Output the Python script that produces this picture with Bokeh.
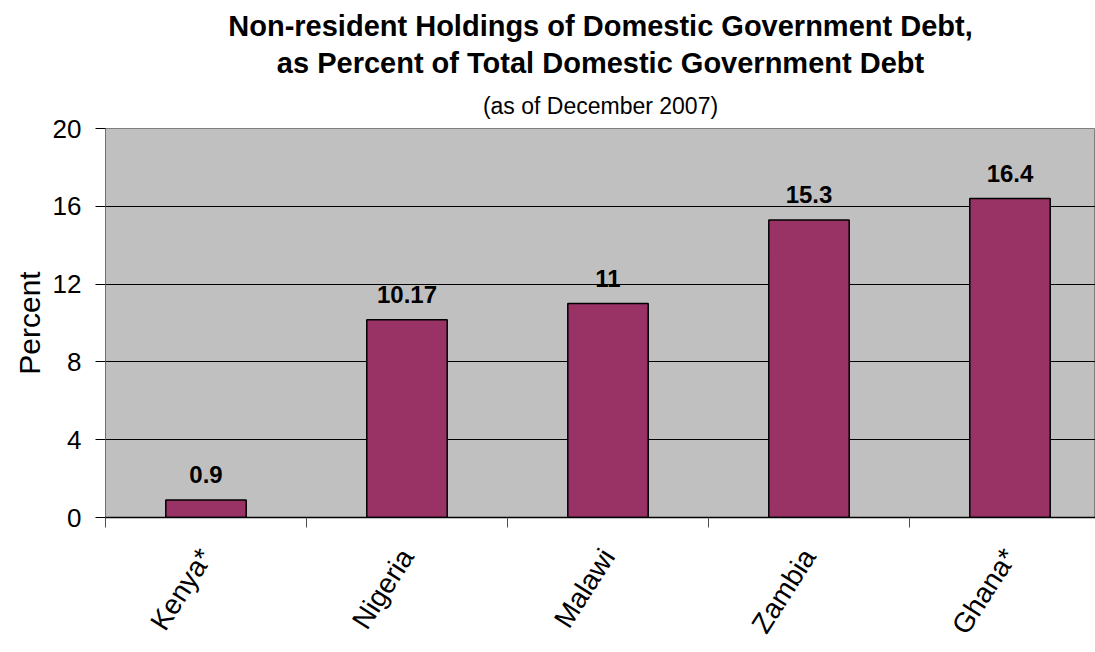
from bokeh.plotting import figure
from bokeh.models import Title, FixedTicker, ColumnDataSource, Range1d
from bokeh.embed import file_html
from bokeh.resources import INLINE
from bokeh.core.properties import value

countries = ["Kenya*", "Nigeria", "Malawi", "Zambia", "Ghana*"]
values = [0.9, 10.17, 11, 15.3, 16.4]
value_labels = ["0.9", "10.17", "11", "15.3", "16.4"]
y_ticks = [0, 4, 8, 12, 16, 20]

FONT = "Liberation Sans"

positions = list(range(1, len(countries) + 1))
src = ColumnDataSource(dict(x=positions, top=values, lab=value_labels))

W, H = 1095, 652
p = figure(width=W, height=H, output_backend="svg", toolbar_location=None,
           x_range=Range1d(0.5, 0.5 + 990 / 201.0), y_range=Range1d(0, 20),
           min_border_left=105, min_border_right=0, min_border_top=128,
           min_border_bottom=135)
p.background_fill_color = "#C0C0C0"
p.border_fill_color = "white"
p.outline_line_color = "#808080"
p.outline_line_width = 1

p.vbar(x="x", top="top", width=0.4, source=src, fill_color="#993366",
       line_color="black", line_width=1.5)
p.text(x="x", y="top", text="lab", source=src, text_align="center",
       text_baseline="bottom", y_offset=-17, text_font=value(FONT),
       text_font_size="24px", text_font_style="bold", text_color="black")

# grid
p.xgrid.visible = False
p.ygrid.ticker = FixedTicker(ticks=y_ticks)
p.ygrid.grid_line_color = "black"
p.ygrid.grid_line_width = 1

# y axis
p.yaxis.ticker = FixedTicker(ticks=y_ticks)
p.yaxis.axis_label = "Percent"
p.yaxis.axis_label_text_font = FONT
p.yaxis.axis_label_text_font_size = "30px"
p.yaxis.axis_label_text_font_style = "normal"
p.yaxis.axis_label_text_color = "black"
p.yaxis.axis_label_standoff = 4
p.yaxis.major_label_text_font = FONT
p.yaxis.major_label_text_font_size = "26px"
p.yaxis.major_label_text_color = "black"
p.yaxis.major_label_standoff = 14
p.yaxis.axis_line_color = "#707070"
p.yaxis.major_tick_line_color = "black"
p.yaxis.major_tick_out = 10
p.yaxis.major_tick_in = 0
p.yaxis.minor_tick_line_color = None

# x axis
p.xaxis.ticker = FixedTicker(ticks=positions,
                             minor_ticks=[i + 0.5 for i in range(0, len(countries) + 1)])
p.xaxis.major_label_overrides = {pos: c for pos, c in zip(positions, countries)}
p.xaxis.major_label_orientation = 1.0
p.xaxis.major_label_text_font = FONT
p.xaxis.major_label_text_font_size = "28px"
p.xaxis.major_label_text_color = "black"
p.xaxis.major_label_standoff = 24
p.xaxis.major_tick_out = 0
p.xaxis.major_tick_in = 0
p.xaxis.major_tick_line_color = None
p.xaxis.minor_tick_out = 10
p.xaxis.minor_tick_in = 0
p.xaxis.minor_tick_line_color = "#505050"
p.xaxis.axis_line_color = "black"
p.xaxis.axis_line_width = 1.5

# titles (added closest to the frame first)
p.title.visible = False
p.add_layout(Title(text="(as of December 2007)", align="center", text_font=FONT,
                   text_font_size="23px", text_font_style="normal", text_color="black",
                   standoff=20, offset=-12), "above")
p.add_layout(Title(text="as Percent of Total Domestic Government Debt", align="center",
                   text_font=FONT, text_font_size="29px", text_font_style="bold",
                   text_color="black", standoff=4, offset=-12), "above")
p.add_layout(Title(text="Non-resident Holdings of Domestic Government Debt,", align="center",
                   text_font=FONT, text_font_size="29px", text_font_style="bold",
                   text_color="black", standoff=2, offset=-12), "above")

open("out.html", "w").write(file_html(p, INLINE))
